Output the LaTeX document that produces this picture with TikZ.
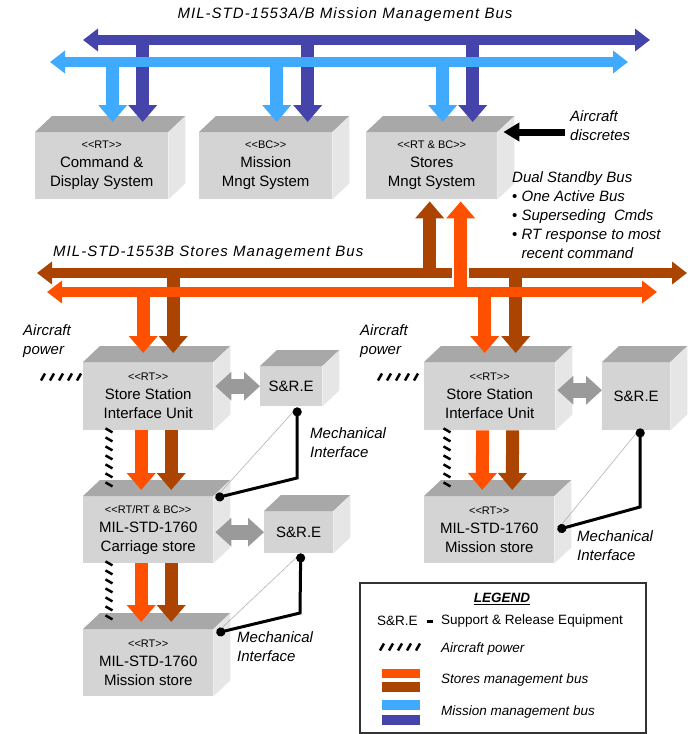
\documentclass[tikz,border=0pt]{standalone}
\usepackage{fontspec}
\setmainfont{Liberation Sans}
\usetikzlibrary{arrows.meta,calc,decorations.markings}

\definecolor{smorange}{HTML}{FF5000}
\definecolor{smbrown}{HTML}{AA4400}
\definecolor{mmlight}{HTML}{40AAFF}
\definecolor{mmdark}{HTML}{4444AA}
\definecolor{boxfront}{HTML}{D4D4D4}
\definecolor{boxtop}{HTML}{A8A8A8}
\definecolor{boxside}{HTML}{E6E6E6}
\definecolor{sregray}{HTML}{9A9A9A}

\newcommand{\sterfont}{\fontsize{11}{13}\selectfont}
\newcommand{\unitdepth}[1]{%
  \fill[boxtop] (#1.north west) -- ++(17,-16) -- ($(#1.north east)+(17,-16)$) -- (#1.north east) -- cycle;
  \fill[boxside] (#1.north east) -- ++(17,-16) -- ($(#1.south east)+(17,-16)$) -- (#1.south east) -- cycle;}

\tikzset{
  unit/.style={fill=boxfront, inner sep=0pt, anchor=north west, align=center,
    font=\fontsize{15}{19}\selectfont},
  hbus/.style={line width=10pt, {Triangle[width=22pt,length=15pt]}-{Triangle[width=22pt,length=15pt]}},
  vbus/.style={line width=13pt, -{Triangle[width=28pt,length=17pt]}},
  srelink/.style={sregray, line width=15pt, {Triangle[width=28pt,length=16pt]}-{Triangle[width=28pt,length=16pt]}},
  power/.style={postaction={decorate, decoration={markings,
    mark=between positions 0 and 1 step 9pt with {\draw[line width=2.5pt, black] (-2pt,-3.5pt) -- (2pt,3.5pt);}}}},
  mech/.style={line width=3pt, {Circle[length=9pt]}-{Circle[length=9pt]}},
  mechshade/.style={gray!60, line width=0.6pt},
  lbl/.style={inner sep=0pt, anchor=west, align=left, font=\fontsize{15}{19}\selectfont\itshape},
  lgd/.style={inner sep=0pt, anchor=west, font=\fontsize{13.5}{16}\selectfont}
}

\begin{document}
\begin{tikzpicture}[x=1pt, y=-1pt]
  \useasboundingbox (0,0) rectangle (692,734);

  % units
  \node[unit, minimum width=133pt, minimum height=67pt] (cds) at (35,132)
    {{\sterfont <{}<RT>{}>}\\Command \&\\Display System};
  \node[unit, minimum width=133pt, minimum height=67pt] (mms) at (199,132)
    {{\sterfont <{}<BC>{}>}\\Mission\\Mngt System};
  \node[unit, minimum width=131pt, minimum height=67pt] (sms) at (366,132)
    {{\sterfont <{}<RT \& BC>{}>}\\Stores\\Mngt System};
  \node[unit, minimum width=130pt, minimum height=68pt] (ssiuL) at (83,362)
    {{\sterfont <{}<RT>{}>}\\Store Station\\Interface Unit};
  \node[unit, minimum width=62pt, minimum height=40pt] (sreL) at (260,366) {S\&R.E};
  \node[unit, minimum width=130pt, minimum height=67pt] (carr) at (83,496)
    {{\sterfont <{}<RT/RT \& BC>{}>}\\MIL-STD-1760\\Carriage store};
  \node[unit, minimum width=69pt, minimum height=42pt] (sreC) at (264,511) {S\&R.E};
  \node[unit, minimum width=130pt, minimum height=67pt] (msL) at (83,629)
    {{\sterfont <{}<RT>{}>}\\MIL-STD-1760\\Mission store};
  \node[unit, minimum width=131pt, minimum height=68pt] (ssiuR) at (424,362)
    {{\sterfont <{}<RT>{}>}\\Store Station\\Interface Unit};
  \node[unit, minimum width=68pt, minimum height=68pt] (sreR) at (602,362) {S\&R.E};
  \node[unit, minimum width=130pt, minimum height=67pt] (msR) at (424,496)
    {{\sterfont <{}<RT>{}>}\\MIL-STD-1760\\Mission store};
  \unitdepth{cds} \unitdepth{mms} \unitdepth{sms}
  \unitdepth{ssiuL} \unitdepth{sreL} \unitdepth{carr} \unitdepth{sreC} \unitdepth{msL}
  \unitdepth{ssiuR} \unitdepth{sreR} \unitdepth{msR}

  % mission management bus
  \coordinate (mmbA1) at (83,40);
  \coordinate (mmbA2) at (650,40);
  \coordinate (mmbB1) at (50,62);
  \coordinate (mmbB2) at (628,62);
  \draw[hbus, mmdark] (mmbA1) -- (mmbA2);
  \draw[vbus, mmdark] ($(cds.north)+(41,-92)$) -- ($(cds.north)+(41,-10)$);
  \draw[vbus, mmdark] ($(mms.north)+(42,-92)$) -- ($(mms.north)+(42,-10)$);
  \draw[vbus, mmdark] ($(sms.north)+(41,-92)$) -- ($(sms.north)+(41,-10)$);
  \draw[hbus, mmlight] (mmbB1) -- (mmbB2);
  \draw[vbus, mmlight] ($(cds.north)+(11,-70)$) -- ($(cds.north)+(11,-10)$);
  \draw[vbus, mmlight] ($(mms.north)+(11,-70)$) -- ($(mms.north)+(11,-10)$);
  \draw[vbus, mmlight] ($(sms.north)+(11,-70)$) -- ($(sms.north)+(11,-10)$);

  % stores management bus
  \coordinate (smbA1) at (37,273);
  \coordinate (smbA2) at (687,273);
  \coordinate (smbB1) at (47,292);
  \coordinate (smbB2) at (657,292);
  \draw[hbus, smbrown] (smbA1) -- (smbA2);
  \draw[vbus, smbrown] ($(ssiuL.north)+(25,-89)$) -- ($(ssiuL.north)+(25,-9)$);
  \draw[vbus, smbrown] ($(ssiuR.north)+(26,-89)$) -- ($(ssiuR.north)+(26,-9)$);
  \draw[vbus, smbrown] ($(sms.south)+(-2,74)$) -- ($(sms.south)+(-2,2)$);
  \draw[hbus, smorange] (smbB1) -- (smbB2);
  \draw[vbus, smorange] ($(ssiuL.north)+(-5,-70)$) -- ($(ssiuL.north)+(-5,-9)$);
  \draw[vbus, smorange] ($(ssiuR.north)+(-5,-70)$) -- ($(ssiuR.north)+(-5,-9)$);
  \draw[white, line width=17pt] ($(sms.south)+(29,81)$) -- ($(sms.south)+(29,63)$);
  \draw[vbus, smorange] ($(sms.south)+(29,93)$) -- ($(sms.south)+(29,2)$);

  % store chains
  \draw[vbus, smorange] ($(ssiuL.south)+(-7,0)$) -- ($(carr.north)+(-7,-6)$);
  \draw[vbus, smbrown] ($(ssiuL.south)+(23,0)$) -- ($(carr.north)+(23,-6)$);
  \draw[vbus, smorange] ($(carr.south)+(-7,0)$) -- ($(msL.north)+(-7,-7)$);
  \draw[vbus, smbrown] ($(carr.south)+(23,0)$) -- ($(msL.north)+(23,-7)$);
  \draw[vbus, smorange] ($(ssiuR.south)+(-7,0)$) -- ($(msR.north)+(-7,-6)$);
  \draw[vbus, smbrown] ($(ssiuR.south)+(23,0)$) -- ($(msR.north)+(23,-6)$);

  \draw[srelink] ($(ssiuL.east |- sreL.west)+(2,0)$) -- (sreL.west);
  \draw[srelink] ($(carr.east |- sreC.west)+(2,0)$) -- (sreC.west);
  \draw[srelink] ($(ssiuR.east)+(2,-6)$) -- ($(sreR.west)+(0,-6)$);

  % aircraft power
  \coordinate (pwinL) at (43,377);
  \coordinate (pwinR) at (380,377);
  \path[power] (pwinL) -- (pwinL -| ssiuL.west);
  \path[power] (pwinR) -- (pwinR -| ssiuR.west);
  \path[power] ($(ssiuL.south west)+(26,0)$) -- ($(carr.north west)+(26,-6)$);
  \path[power] ($(carr.south west)+(26,0)$) -- ($(msL.north west)+(26,-11)$);
  \path[power] ($(ssiuR.south west)+(23,0)$) -- ($(msR.north west)+(23,-9)$);

  % mechanical interfaces
  \coordinate (mkA) at (297,478);
  \coordinate (mkB) at (300,613);
  \coordinate (mkC) at (640,507);
  \draw[mechshade] ($(sreL.south)+(6,1)$) -- ($(carr.north east)+(2,2)$);
  \draw[mechshade] ($(sreC.south)+(2,0)$) -- ($(msL.north east)+(3,4)$);
  \draw[mechshade] ($(sreR.south)+(4,-2)$) -- ($(msR.east)+(3,0)$);
  \draw[mech] ($(sreL.south)+(6,1)$) -- (mkA) -- ($(carr.north east)+(2,2)$);
  \draw[mech] ($(sreC.south)+(2,0)$) -- (mkB) -- ($(msL.north east)+(3,4)$);
  \draw[mech] ($(sreR.south)+(4,-2)$) -- (mkC) -- ($(msR.east)+(3,0)$);

  \coordinate (discr) at (565,132);
  \draw[line width=7pt, -{Triangle[width=18pt,length=16pt]}] (discr) -- ($(sms.north east)+(6,0)$);

  % labels
  \node[lbl, anchor=center] (mmbt) at (345,15)
    {\addfontfeatures{LetterSpace=7}MIL-STD-1553A/B Mission Management Bus};
  \node[lbl] (smbt) at (53,253)
    {\addfontfeatures{LetterSpace=7}MIL-STD-1553B Stores Management Bus};
  \node[lbl] (discrt) at (570,126) {Aircraft\\discretes};
  \node[lbl] (dualt) at (512,215) {Dual Standby Bus\\
    {\upshape\textbullet}\ One Active Bus\\
    {\upshape\textbullet}\ Superseding~~Cmds\\
    {\upshape\textbullet}\ RT response to most\\
    \phantom{{\upshape\textbullet}\ }recent command};
  \node[lbl] (powtL) at (23,341) {Aircraft\\power};
  \node[lbl] (powtR) at (360,341) {Aircraft\\power};
  \node[lbl] (mechtA) at (310,443) {Mechanical\\Interface};
  \node[lbl] (mechtB) at (237,647) {Mechanical\\Interface};
  \node[lbl] (mechtC) at (577,546) {Mechanical\\Interface};

  % legend
  \draw[line width=1.5pt, draw=black!80] (360,583) rectangle (646,733);
  \node[lgd, anchor=center] (lgtitle) at (502,599) {\underline{\textbf{\textit{LEGEND}}}};
  \node[lgd] (lgsre) at (377,621) {S\&R.E};
  \node[lgd, anchor=center] (lgdash) at (430,621) {\rule{6pt}{3pt}};
  \node[lgd] (lgsret) at (441,621) {Support \& Release Equipment};
  \path[power] (382,647) -- (420,647);
  \node[lgd] (lgpow) at (441,649) {\itshape Aircraft power};
  \draw[smorange, line width=9pt] (382,673) -- (420,673);
  \draw[smbrown, line width=10pt] (382,687) -- (420,687);
  \node[lgd] (lgsmb) at (441,680) {\itshape Stores management bus};
  \draw[mmlight, line width=10pt] (382,705) -- (420,705);
  \draw[mmdark, line width=10pt] (382,720) -- (420,720);
  \node[lgd] (lgmmb) at (441,712) {\itshape Mission management bus};
\end{tikzpicture}
\end{document}
